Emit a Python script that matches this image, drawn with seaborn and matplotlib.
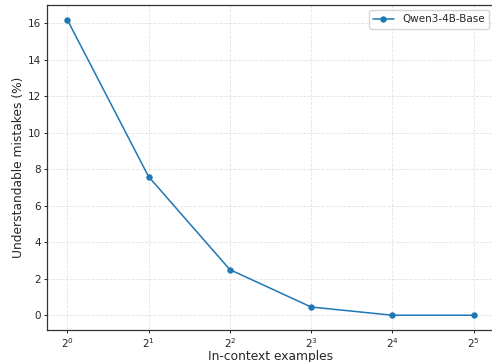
import matplotlib
matplotlib.use("Agg")
import matplotlib.pyplot as plt
import seaborn as sns
import pandas as pd

# In-context example counts and mistake rates
shots = [1, 2, 4, 8, 16, 32]
mistakes = [16.2, 7.6, 2.5, 0.45, 0.0, 0.0]
model = "Qwen3-4B-Base"

df = pd.DataFrame({"shots": shots, "mistakes": mistakes})

sns.set_style("ticks")
plt.rcParams["font.family"] = ["DejaVu Sans"]

fig = plt.figure(figsize=(4.92, 3.62), dpi=100)
ax = fig.add_axes([47 / 492, 32 / 362, 447 / 492, 325 / 362])

sns.lineplot(data=df, x="shots", y="mistakes", marker="o", markersize=4.6,
             markeredgewidth=0, color="#1f77b4", linewidth=1.1, label=model, ax=ax)

ax.set_xscale("log", base=2)
ax.set_xticks(shots)
ax.set_xticklabels([f"$2^{{{i}}}$" for i in range(len(shots))])
ax.minorticks_off()
ax.set_yticks(range(0, 17, 2))
ax.tick_params(labelsize=7.5, length=2.2, pad=2.0, width=0.7, colors=".15")
ax.set_xlabel("In-context examples", fontsize=8.8, labelpad=0, color=".15")
ax.set_ylabel("Understandable mistakes (%)", fontsize=8.8, labelpad=2, color=".15")
ax.grid(True, linestyle="--", alpha=0.35, linewidth=0.6, color="#b0b0b0")
for s in ax.spines.values():
    s.set_linewidth(0.9)
    s.set_color(".2")
ax.legend(loc="upper right", fontsize=7.5)

fig.savefig("out.png", dpi=100)
